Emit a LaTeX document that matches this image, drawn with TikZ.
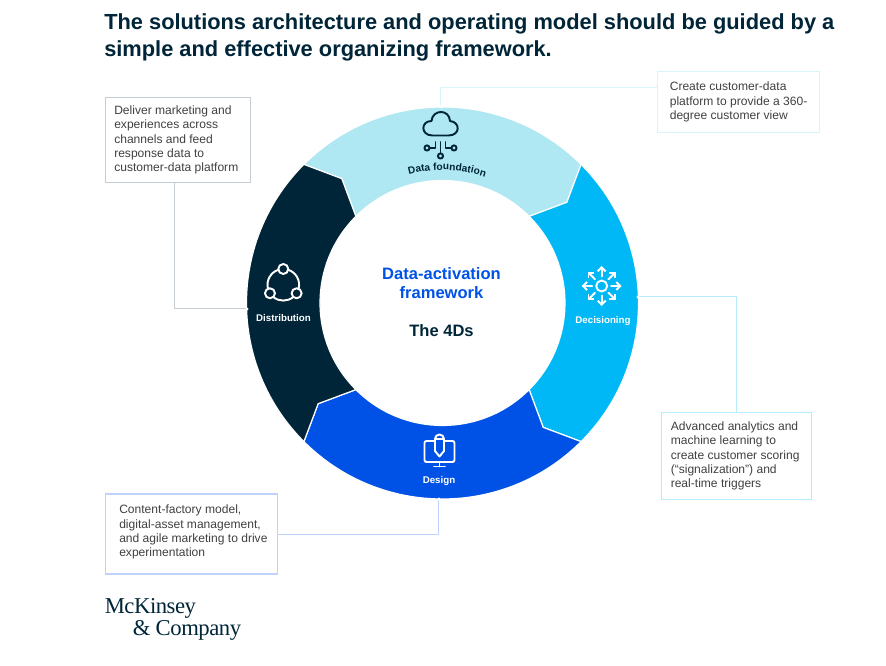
\documentclass[tikz,border=0pt]{standalone}
\usepackage{fontspec}
\setmainfont{Liberation Sans}
\newfontfamily\logofont[LetterSpace=-2]{Liberation Serif}
\usetikzlibrary{arrows.meta,decorations.text}
\definecolor{segfound}{HTML}{AFE8F2}
\definecolor{segdec}{HTML}{00B8F5}
\definecolor{segdesign}{HTML}{0052E6}
\definecolor{segdist}{HTML}{002538}
\definecolor{linefound}{HTML}{D8F5FA}
\definecolor{linedec}{HTML}{B5EBFF}
\definecolor{linedesign}{HTML}{BFD3FA}
\definecolor{linedist}{HTML}{C5CDD3}
\definecolor{bodytext}{HTML}{404040}
\tikzset{
    infobox/.style={draw,line width=.9pt,anchor=north west,inner sep=0pt},
    infotext/.style={align=left,anchor=west,inner sep=0pt,text=bodytext,font=\fontsize{9.05}{10.75}\selectfont},
    link/.style={line width=.75pt},
    enddot/.style={circle,fill=white,inner sep=0pt,minimum size=2.5pt},
    seglabel/.style={text=white,font=\fontsize{7.3}{9}\selectfont\bfseries},
    icon/.style={line width=1.45pt,line cap=round,line join=round}
}
\begin{document}
\begin{tikzpicture}[x=.75pt,y=.75pt]
    \useasboundingbox (-442.5,-363) rectangle (443.5,303);
    \node[anchor=north west,inner sep=0pt,align=left,text=segdist,font=\fontsize{16.37}{20.25}\selectfont\bfseries] (title) at (-338.5,290)
        {The solutions architecture and operating model should be guided by a\\simple and effective organizing framework.};

    \foreach \ang/\segcolor in {135/segfound,45/segdec,-45/segdesign,-135/segdist} {
        \fill[\segcolor,draw=white,line width=.9pt] (\ang:196) arc[start angle=\ang,end angle=\ang-90,radius=196]
            -- (\ang-96:160) -- (\ang-90:122.5) arc[start angle=\ang-90,end angle=\ang,radius=122.5]
            -- (\ang-6:160) -- cycle;
    }

    \node[infobox,draw=linefound,minimum width=121.5pt,minimum height=45.75pt] (boxfound) at (214.5,232) {};
    \node[infobox,draw=linedist,minimum width=108.75pt,minimum height=63.75pt] (boxdist) at (-337.5,206) {};
    \node[infobox,draw=linedec,minimum width=112.5pt,minimum height=65.25pt] (boxdec) at (218,-109) {};
    \node[infobox,draw=linedesign,minimum width=129pt,minimum height=60pt] (boxdesign) at (-337.5,-190.5) {};

    \node[infotext] (textfound) at ([xshift=9.4pt]boxfound.west)
        {Create customer-data\\platform to provide a 360-\\degree customer view};
    \node[infotext] (textdist) at ([xshift=6.75pt]boxdist.west)
        {Deliver marketing and\\experiences across\\channels and feed\\response data to\\customer-data platform};
    \node[infotext] (textdec) at ([xshift=7.5pt]boxdec.west)
        {Advanced analytics and\\machine learning to\\create customer scoring\\(“signalization”) and\\real-time triggers};
    \node[infotext] (textdesign) at ([xshift=10.5pt,yshift=1.5pt]boxdesign.west)
        {Content-factory model,\\digital-asset management,\\and agile marketing to drive\\experimentation};

    \coordinate (ringfound) at (-1.5,196);
    \coordinate (ringdist) at (-195.5,-6);
    \coordinate (ringdec) at (195.5,6);
    \coordinate (ringdesign) at (-3.5,-196);
    \draw[link,linefound] (ringfound) |- ([yshift=10.9pt]boxfound.west);
    \draw[link,linedist] (ringdist) -| ([xshift=-3pt]boxdist.south);
    \draw[link,linedec] (ringdec) -| (boxdec.north);
    \draw[link,linedesign] (ringdesign) |- (boxdesign.east);
    \foreach \ringend in {ringfound,ringdist,ringdec,ringdesign} {
        \node[enddot] at (\ringend) {};
    }

    \begin{scope}[shift={(-2,179)},icon,segdist]
        \draw (-8,-11.5) .. controls (-20,-11.5) and (-20,3) .. (-9,3)
            .. controls (-8,15) and (9,15) .. (9.5,3)
            .. controls (20,2) and (20,-11.5) .. (8,-11.5) -- cycle;
        \draw (0,-18) -- (0,-28.5);
        \draw (0,-32) circle (2.6);
        \draw (-5,-18) -- (-5,-24) -- (-10.5,-24);
        \draw (-13.5,-24) circle (2.6);
        \draw (5,-18) -- (5,-24) -- (10.5,-24);
        \draw (13.5,-24) circle (2.6);
    \end{scope}
    \path[decorate,decoration={text along path,text align=center,
        text={|\fontsize{7.6}{9}\selectfont\bfseries\color{segdist}|Data foundation}}]
        (106:133) arc[start angle=106,end angle=70,radius=133];

    \begin{scope}[shift={(-159.2,18.2)},icon,white]
        \draw (90:15.8) circle (5);
        \draw (212.5:15.8) circle (5);
        \draw (-32.5:15.8) circle (5);
        \draw (108:15.8) arc[start angle=108,end angle=194,radius=15.8];
        \draw (231:15.8) arc[start angle=231,end angle=309,radius=15.8];
        \draw (-14:15.8) arc[start angle=-14,end angle=72,radius=15.8];
    \end{scope}
    \node[seglabel] (labeldist) at (-159,-15) {Distribution};

    \begin{scope}[shift={(159.2,17)},icon,white]
        \draw (0,0) circle (5.5);
        \foreach \dir in {0,45,...,315} {
            \draw[-{Straight Barb[length=3pt,width=6pt]}] (\dir:9.5) -- (\dir:20);
        }
    \end{scope}
    \node[seglabel] (labeldec) at (160.5,-18) {Decisioning};

    \begin{scope}[shift={(-3,-147)},icon,white]
        \draw[rounded corners=1.5pt] (-5.5,9) -- (-15,9) -- (-15,-12) -- (15,-12) -- (15,9) -- (5.5,9);
        \draw (0,-12) -- (0,-16.5);
        \draw (-5.5,-16.5) -- (5.5,-16.5);
        \draw (-4.5,11) arc[start angle=180,end angle=0,radius=4.5] -- (4.5,-1) -- (0,-6.5) -- (-4.5,-1) -- cycle;
        \draw (-4.5,11) -- (4.5,11);
    \end{scope}
    \node[seglabel] (labeldesign) at (-3.5,-178) {Design};

    \node[text=segdesign,align=center,inner sep=0pt,font=\fontsize{12.4}{14.25}\selectfont\bfseries] (centertitle) at (-1,19.5)
        {Data-activation\\framework};
    \node[text=segdist,inner sep=0pt,font=\fontsize{12.4}{14.25}\selectfont\bfseries] (centersub) at (-1,-28) {The 4Ds};

    \node[anchor=west,inner sep=0pt,text=segdist,font=\logofont\fontsize{17}{18}\selectfont] (logotop) at (-338,-305) {McKinsey};
    \node[anchor=west,inner sep=0pt,text=segdist,font=\logofont\fontsize{17}{18}\selectfont] (logobottom) at (-310,-327) {\&\hspace{4pt}Company};
\end{tikzpicture}
\end{document}
